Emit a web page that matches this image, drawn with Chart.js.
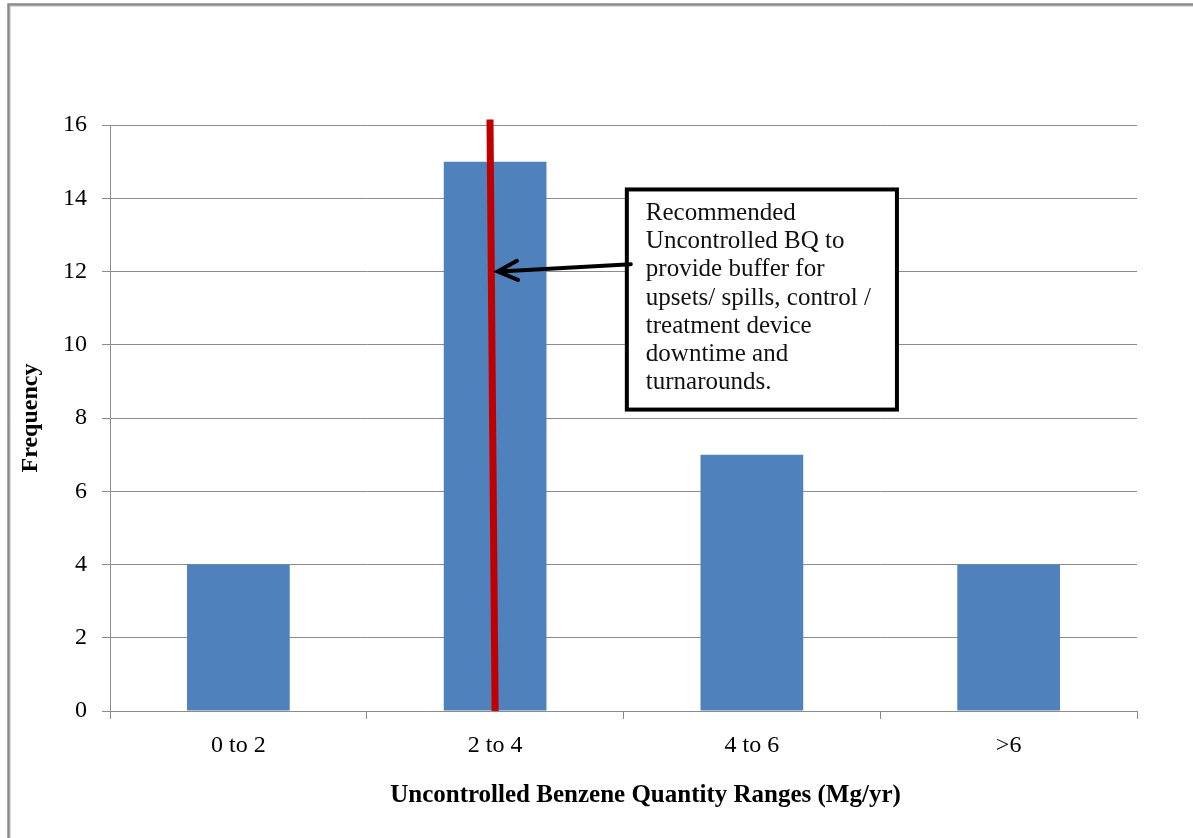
<!DOCTYPE html>
<html>
<head>
<meta charset="utf-8">
<script src="https://cdn.jsdelivr.net/npm/chart.js@4.4.1/dist/chart.umd.min.js"></script>
<style>
  html, body { margin: 0; padding: 0; background: #ffffff; }
  #wrap { position: relative; width: 1193px; height: 838px; }
</style>
</head>
<body>
<div id="wrap"><canvas id="c" width="1193" height="838"></canvas></div>
<script>
// Frequency of facilities per uncontrolled benzene quantity range
const categories = ['0 to 2', '2 to 4', '4 to 6', '>6'];
const frequency = [4, 15, 7, 4];
const yMin = 0;
const yMax = 16;
const yStep = 2;
const xTitle = 'Uncontrolled Benzene Quantity Ranges (Mg/yr)';
const yTitle = 'Frequency';

// Recommended BQ marker line, in (category index, frequency) units
const recommendedLine = [{ x: 0.98, y: 16.15 }, { x: 1.0, y: 0 }];

// Callout box and its arrow, in (category index, frequency) units
const calloutBox = { x0: 1.513, x1: 2.565, y0: 14.24, y1: 8.23 };
const arrowTip = { x: 1.01, y: 12.0 };
const arrowTailY = 12.2;
const calloutLines = [
  'Recommended',
  'Uncontrolled BQ to',
  'provide buffer for',
  'upsets/ spills, control /',
  'treatment device',
  'downtime and',
  'turnarounds.'
];

const SERIF = '"Liberation Serif", "Times New Roman", serif';

const overlay = {
  id: 'overlay',
  beforeDraw(chart) {
    const ctx = chart.ctx;
    ctx.save();
    ctx.fillStyle = '#ffffff';
    ctx.fillRect(0, 0, chart.width, chart.height);
    // frame of the chart object
    ctx.strokeStyle = '#8a8a8a';
    ctx.lineWidth = 2.5;
    ctx.beginPath();
    ctx.moveTo(8.5, chart.height);
    ctx.lineTo(8.5, 4.5);
    ctx.lineTo(chart.width, 4.5);
    ctx.stroke();
    ctx.strokeStyle = '#d8d8d8';
    ctx.lineWidth = 1;
    ctx.beginPath();
    ctx.moveTo(10.5, chart.height);
    ctx.lineTo(10.5, 6.5);
    ctx.lineTo(chart.width, 6.5);
    ctx.stroke();
    ctx.restore();
  },
  afterDraw(chart) {
    // category axis title, set a little right of the plot centre
    const { ctx, chartArea } = chart;
    ctx.save();
    ctx.fillStyle = '#000000';
    ctx.font = 'bold 25px ' + SERIF;
    ctx.textAlign = 'center';
    ctx.textBaseline = 'middle';
    ctx.fillText(xTitle, (chartArea.left + chartArea.right) / 2 + 22, 796);
    ctx.restore();
  },
  afterDatasetsDraw(chart) {
    const { ctx, scales: { x, y } } = chart;
    ctx.save();

    // red marker line
    ctx.strokeStyle = '#c00000';
    ctx.lineWidth = 7;
    ctx.lineCap = 'butt';
    ctx.beginPath();
    ctx.moveTo(x.getPixelForValue(recommendedLine[0].x), y.getPixelForValue(recommendedLine[0].y));
    ctx.lineTo(x.getPixelForValue(recommendedLine[1].x), y.getPixelForValue(recommendedLine[1].y));
    ctx.stroke();

    // callout box
    const bx0 = x.getPixelForValue(calloutBox.x0);
    const bx1 = x.getPixelForValue(calloutBox.x1);
    const by0 = y.getPixelForValue(calloutBox.y0);
    const by1 = y.getPixelForValue(calloutBox.y1);
    ctx.fillStyle = '#ffffff';
    ctx.fillRect(bx0, by0, bx1 - bx0, by1 - by0);
    ctx.strokeStyle = '#000000';
    ctx.lineWidth = 4;
    ctx.lineJoin = 'miter';
    ctx.strokeRect(bx0, by0, bx1 - bx0, by1 - by0);

    ctx.fillStyle = '#111111';
    ctx.font = '25px ' + SERIF;
    ctx.textAlign = 'left';
    ctx.textBaseline = 'middle';
    calloutLines.forEach((line, i) => {
      ctx.fillText(line, bx0 + 19, by0 + 24 + i * 28.2);
    });

    // arrow from box to the marker line
    const tx = x.getPixelForValue(arrowTip.x);
    const ty = y.getPixelForValue(arrowTip.y);
    const sx = bx0 + 4;
    const sy = y.getPixelForValue(arrowTailY);
    ctx.strokeStyle = '#000000';
    ctx.lineWidth = 4;
    ctx.lineCap = 'round';
    ctx.beginPath();
    ctx.moveTo(sx, sy);
    ctx.lineTo(tx + 2, ty);
    ctx.stroke();
    const ang = Math.atan2(sy - ty, sx - tx);
    const head = 22;
    const spread = 0.45;
    ctx.beginPath();
    ctx.moveTo(tx + head * Math.cos(ang - spread), ty + head * Math.sin(ang - spread));
    ctx.lineTo(tx, ty);
    ctx.lineTo(tx + head * Math.cos(ang + spread), ty + head * Math.sin(ang + spread));
    ctx.stroke();

    ctx.restore();
  }
};

new Chart(document.getElementById('c'), {
  type: 'bar',
  data: {
    labels: categories,
    datasets: [{
      label: 'Frequency',
      data: frequency,
      backgroundColor: '#4f81bd',
      borderWidth: 0,
      barPercentage: 0.4,
      categoryPercentage: 1.0
    }]
  },
  options: {
    responsive: false,
    animation: false,
    devicePixelRatio: 1,
    layout: { padding: { top: 125, right: 56, left: 0, bottom: 0 } },
    plugins: {
      legend: { display: false },
      tooltip: { enabled: false },
      title: { display: false }
    },
    scales: {
      x: {
        offset: true,
        grid: {
          offset: true,
          drawOnChartArea: false,
          drawTicks: true,
          tickLength: 8,
          color: '#8c8c8c',
          lineWidth: 1
        },
        border: { display: true, color: '#8c8c8c', width: 1 },
        ticks: {
          color: '#000000',
          font: { family: SERIF, size: 24 },
          padding: 12,
          maxRotation: 0
        },
        title: { display: false },
        afterFit(scale) { scale.height = 127; }
      },
      y: {
        min: yMin,
        max: yMax,
        ticks: {
          stepSize: yStep,
          color: '#000000',
          font: { family: SERIF, size: 24 },
          padding: 15
        },
        grid: {
          color: '#8c8c8c',
          lineWidth: 1,
          drawTicks: true,
          tickLength: 8
        },
        border: { display: true, color: '#8c8c8c', width: 1 },
        title: {
          display: true,
          text: yTitle,
          color: '#000000',
          font: { family: SERIF, size: 24, weight: 'bold' },
          padding: { top: 16, bottom: 0 }
        },
        afterFit(scale) { scale.width = 110; }
      }
    }
  },
  plugins: [overlay]
});
</script>
</body>
</html>
